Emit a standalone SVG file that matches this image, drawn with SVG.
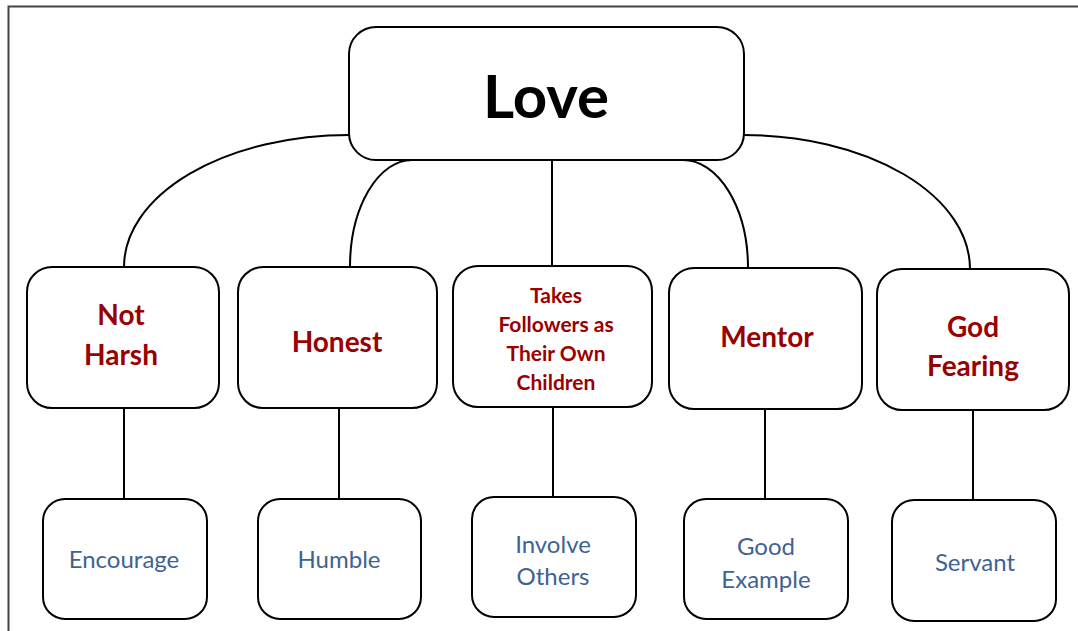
<svg xmlns="http://www.w3.org/2000/svg" width="1078" height="631" viewBox="0 0 1078 631">
<style>
.box{fill:#fff;stroke:#000;stroke-width:2}
.con{fill:none;stroke:#000;stroke-width:2}
.t{font-family:Lato,"Liberation Sans",sans-serif;text-anchor:middle}
.top{font-size:60px;font-weight:bold;fill:#000}
.mid{font-size:28px;font-weight:bold;fill:#990000}
.sm{font-size:21px;font-weight:bold;fill:#990000}
.low{font-size:24px;fill:#3e6393}
</style>
<rect width="1078" height="631" fill="#fff"/>
<path d="M8.5,631 V6.5 H1078" fill="none" stroke="#444" stroke-width="2"/>
<g id="connectors">
<path class="con" d="M349,135 A225,132 0 0 0 124,267"/>
<path class="con" d="M412,160 A62,107 0 0 0 350,267"/>
<path class="con" d="M552,160 V266"/>
<path class="con" d="M683,160 A65,108 0 0 1 748,268"/>
<path class="con" d="M744,135 A226,134 0 0 1 970,269"/>
<path class="con" d="M124,408 V499"/>
<path class="con" d="M339,408 V499"/>
<path class="con" d="M553,407 V497"/>
<path class="con" d="M765,409 V499"/>
<path class="con" d="M973,410 V500"/>
</g>
<g id="love"><rect class="box" x="349" y="27" width="395" height="133" rx="27"/><text class="t top" x="546" y="118">Love</text></g>
<g id="notharsh"><rect class="box" x="27" y="267" width="192" height="141" rx="25"/><text class="t mid" x="121" y="325">Not</text><text class="t mid" x="121" y="365">Harsh</text></g>
<g id="honest"><rect class="box" x="238" y="267" width="199" height="141" rx="25"/><text class="t mid" x="337" y="352">Honest</text></g>
<g id="takes"><rect class="box" x="453" y="266" width="199" height="141" rx="25"/><text class="t sm" x="556" y="303">Takes</text><text class="t sm" x="556" y="332">Followers as</text><text class="t sm" x="556" y="361">Their Own</text><text class="t sm" x="556" y="390">Children</text></g>
<g id="mentor"><rect class="box" x="669" y="268" width="193" height="141" rx="25"/><text class="t mid" x="767" y="347">Mentor</text></g>
<g id="godfearing"><rect class="box" x="877" y="269" width="192" height="141" rx="25"/><text class="t mid" x="973" y="337">God</text><text class="t mid" x="973" y="376">Fearing</text></g>
<g id="encourage"><rect class="box" x="43" y="499" width="164" height="120" rx="22"/><text class="t low" x="124" y="568">Encourage</text></g>
<g id="humble"><rect class="box" x="258" y="499" width="163" height="120" rx="22"/><text class="t low" x="339" y="568">Humble</text></g>
<g id="involve"><rect class="box" x="472" y="497" width="164" height="120" rx="22"/><text class="t low" x="553" y="553">Involve</text><text class="t low" x="553" y="585">Others</text></g>
<g id="goodexample"><rect class="box" x="684" y="499" width="164" height="120" rx="22"/><text class="t low" x="766" y="555">Good</text><text class="t low" x="766" y="588">Example</text></g>
<g id="servant"><rect class="box" x="892" y="500" width="164" height="121" rx="22"/><text class="t low" x="975" y="571">Servant</text></g>
</svg>
